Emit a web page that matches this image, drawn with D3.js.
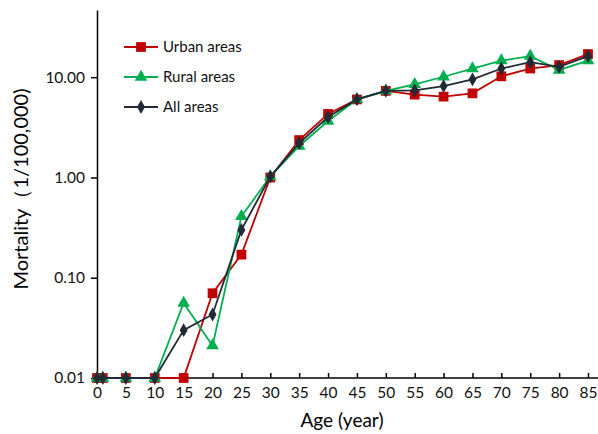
<!DOCTYPE html>
<html>
<head>
<meta charset="utf-8">
<script src="https://cdn.jsdelivr.net/npm/d3@7"></script>
<style>
  body { margin: 0; background: #fff; }
  text { font-family: Lato, "Open Sans", sans-serif; }
</style>
</head>
<body>
<div id="chart"></div>
<script>
var ages = [0, 1, 5, 10, 15, 20, 25, 30, 35, 40, 45, 50, 55, 60, 65, 70, 75, 80, 85];
var urban = [0.01, 0.01, 0.01, 0.01, 0.01, 0.070, 0.17, 1.0, 2.36, 4.3, 6.0, 7.3, 6.7, 6.4, 6.9, 10.2, 12.2, 13.2, 17.0];
var rural = [0.01, 0.01, 0.01, 0.01, 0.056, 0.021, 0.41, 1.02, 2.06, 3.65, 6.0, 7.3, 8.5, 10.1, 12.2, 14.6, 16.2, 11.8, 14.6];
var all = [0.01, 0.01, 0.01, 0.01, 0.030, 0.043, 0.30, 1.02, 2.2, 4.0, 6.0, 7.3, 7.4, 8.15, 9.5, 12.2, 14.1, 12.7, 16.2];
var seriesNames = ['Urban areas', 'Rural areas', 'All areas'];
var xTicks = [0, 5, 10, 15, 20, 25, 30, 35, 40, 45, 50, 55, 60, 65, 70, 75, 80, 85];
var yTicks = [0.01, 0.1, 1, 10];

var width = 598, height = 434;
var colors = ['#c00000', '#00b050', '#222a35'];
var symbols = [d3.symbolSquare, d3.symbolTriangle, d3.symbolDiamond];
var sizes = [95, 70, 55];

var svg = d3.select('#chart').append('svg')
  .attr('width', width)
  .attr('height', height);

// scales
var x = d3.scaleLinear().domain([0, 85]).range([97, 588]);
var y = d3.scaleLog().domain([0.01, Math.pow(10, 1.67)]).range([378, 10]);

// axes
var xAxis = svg.append('g')
  .attr('transform', 'translate(0,378)')
  .call(d3.axisBottom(x).tickValues(xTicks).tickSizeInner(-5).tickSizeOuter(0).tickPadding(9));
xAxis.select('.domain').attr('d', 'M97,0H598');
var yAxis = svg.append('g')
  .attr('transform', 'translate(97,0)')
  .call(d3.axisLeft(y).tickValues(yTicks).tickFormat(d3.format('.2f')).tickSizeInner(6).tickSizeOuter(0).tickPadding(6));
[xAxis, yAxis].forEach(function (a) {
  a.selectAll('path,line').attr('stroke', '#000').attr('stroke-width', 1.5);
  a.selectAll('text').attr('font-size', 15.5).attr('fill', '#111').style('font-family', 'Lato, sans-serif');
});

// titles
svg.append('text')
  .attr('x', 342).attr('y', 427)
  .attr('text-anchor', 'middle')
  .attr('font-size', 19)
  .text('Age (year)');
svg.append('text')
  .attr('transform', 'translate(28,189) rotate(-90)')
  .attr('text-anchor', 'middle')
  .attr('font-size', 20)
  .text('Mortality（1/100,000)');

// lines
var data = [urban, rural, all];
var line = d3.line()
  .x(function (d, i) { return x(ages[i]); })
  .y(function (d) { return y(d); });

data.forEach(function (vals, k) {
  var g = svg.append('g');
  g.append('path')
    .attr('d', line(vals))
    .attr('fill', 'none')
    .attr('stroke', colors[k])
    .attr('stroke-width', 1.8);
  g.selectAll('path.pt')
    .data(vals)
    .enter()
    .append('path')
    .attr('class', 'pt')
    .attr('d', d3.symbol().type(symbols[k]).size(sizes[k]))
    .attr('transform', function (d, i) {
      return 'translate(' + x(ages[i]) + ',' + y(d) + ')';
    })
    .attr('fill', colors[k]);
});

// legend
seriesNames.forEach(function (name, k) {
  var ly = 47 + k * 30;
  svg.append('line')
    .attr('x1', 124).attr('x2', 158)
    .attr('y1', ly).attr('y2', ly)
    .attr('stroke', colors[k]).attr('stroke-width', 1.8);
  svg.append('path')
    .attr('d', d3.symbol().type(symbols[k]).size(sizes[k]))
    .attr('transform', 'translate(141,' + ly + ')')
    .attr('fill', colors[k]);
  svg.append('text')
    .attr('x', 163).attr('y', ly + 5)
    .attr('font-size', 15)
    .attr('fill', '#111')
    .text(name);
});
</script>
</body>
</html>
